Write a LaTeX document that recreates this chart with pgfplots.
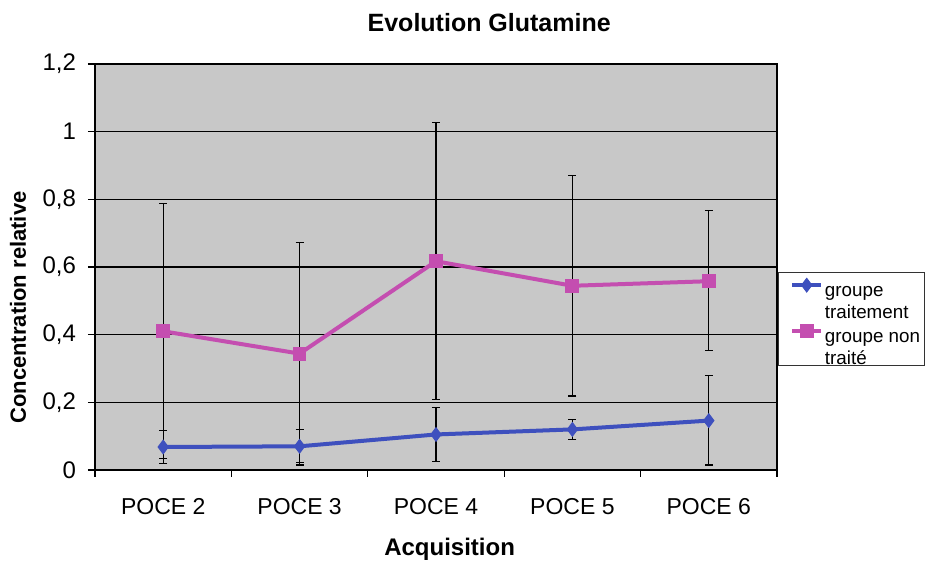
\documentclass[border=0pt]{standalone}
\usepackage{pgfplots}
\pgfplotsset{compat=1.18}
\usepackage{fontspec}
\setmainfont{Liberation Sans}
\definecolor{plotgray}{RGB}{200,200,200}
\definecolor{myblue}{RGB}{62,80,190}
\definecolor{mypink}{RGB}{196,78,176}

\pgfplotstableread{
x y ep em
0 0.068 0.048 0.048
1 0.070 0.049 0.049
2 0.105 0.079 0.080
3 0.120 0.030 0.030
4 0.146 0.133 0.131
}\blue
\pgfplotstableread{
x y ep em
0 0.410 0.377 0.377
1 0.344 0.329 0.329
2 0.617 0.409 0.408
3 0.5445 0.326 0.326
4 0.558 0.208 0.204
}\pink

\begin{document}
\begin{tikzpicture}
\path[use as bounding box] (-47.5pt,-46pt) rectangle (416pt,235pt);
\begin{axis}[
  at={(0,0)}, anchor=south west,
  scale only axis, width=341pt, height=203pt,
  xmin=-0.5, xmax=4.5, ymin=0, ymax=1.2,
  xtick={-0.5,0.5,1.5,2.5,3.5,4.5},
  xticklabels={POCE 2,POCE 3,POCE 4,POCE 5,POCE 6,{}},
  xticklabel style={xshift=34.1pt, yshift=-7pt, font=\fontsize{11.5}{13}\selectfont},
  ytick={0,0.2,0.4,0.6,0.8,1,1.2},
  yticklabel style={xshift=-2.5pt, font=\fontsize{12}{14}\selectfont},
  /pgf/number format/assume math mode=true,
  /pgf/number format/use comma,
  tick pos=left,
  tick align=outside, major tick length=3.5pt,
  tick style={black, line width=0.6pt},
  axis background/.style={fill=plotgray},
  axis line style={black, line width=0.7pt},
  ymajorgrids, grid style={black, line width=0.55pt},
  title={Evolution Glutamine},
  title style={at={(axis description cs:0.578,1)}, anchor=base, yshift=10pt, font=\bfseries\fontsize{12.5}{15}\selectfont},
  xlabel={Acquisition},
  xlabel style={at={(axis description cs:0.52,0)}, anchor=base, yshift=-43pt, font=\bfseries\fontsize{12}{14}\selectfont},
  ylabel={Concentration relative},
  ylabel style={at={(axis description cs:-0.113,0.40)}, anchor=center, font=\bfseries\fontsize{11}{13}\selectfont},
  legend style={at={(rel axis cs:1,0.488)}, anchor=north west, xshift=0.5pt,
    draw=black!80, line width=0.5pt, fill=white, inner xsep=1pt, inner ysep=3pt,
    font=\fontsize{9.4}{11}\selectfont,
    nodes={inner sep=1pt},
    cells={anchor=west}, row sep=6pt},
  legend image code/.code={\path (-5pt,0pt); \draw[mark repeat=2,mark phase=2,yshift=5.5pt] plot coordinates {(0cm,0cm) (0.25cm,0cm) (0.5cm,0cm)};},
  error bars/error bar style={black, line width=0.6pt},
  error bars/error mark options={black, line width=0.6pt, mark size=2pt, rotate=90},
]
\addplot[myblue, line width=2pt, mark=diamond*, mark size=3.4pt, mark options={fill=myblue, draw=myblue, line width=0.5pt},
  error bars/.cd, y dir=both, y explicit]
  table[x=x, y=y, y error plus=ep, y error minus=em] {\blue};
\addlegendentry{\begin{tabular}{@{}l@{}}groupe\\ traitement\end{tabular}}
\addplot[mypink, line width=2pt, mark=square*, mark size=3.2pt, mark options={fill=mypink, draw=mypink, line width=0.5pt},
  error bars/.cd, y dir=both, y explicit]
  table[x=x, y=y, y error plus=ep, y error minus=em] {\pink};
\addlegendentry{\begin{tabular}{@{}l@{}}groupe non\\ trait\'e\end{tabular}}
\end{axis}
\end{tikzpicture}
\end{document}
